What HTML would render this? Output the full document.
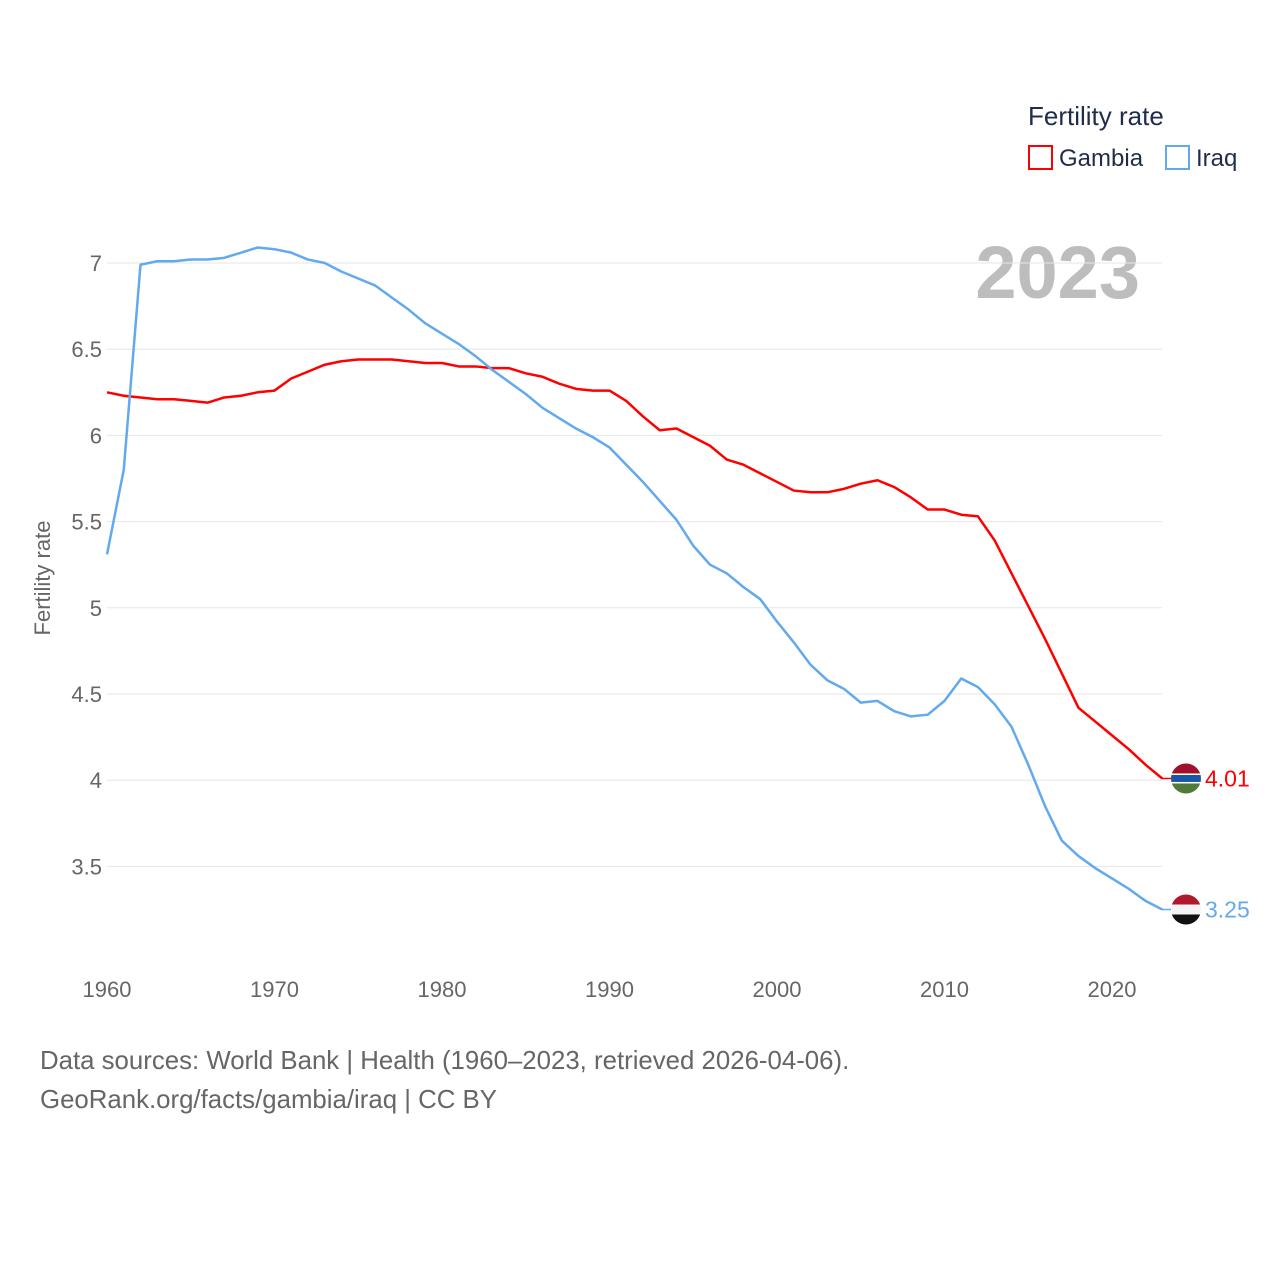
<!DOCTYPE html>
<html><head><meta charset="utf-8"><style>
body{margin:0;background:#fff;width:1280px;height:1280px;overflow:hidden;font-family:"Liberation Sans",sans-serif}
svg text{font-family:"Liberation Sans",sans-serif}
</style></head><body>
<svg id="chart" width="1280" height="1280" xmlns="http://www.w3.org/2000/svg">
<text x="1028" y="125" font-size="26" fill="#1f2d4a">Fertility rate</text>
<rect x="1029" y="146" width="23" height="23" fill="none" stroke="#ff0000" stroke-width="2"/>
<text x="1059" y="166" font-size="24" fill="#1f2d4a">Gambia</text>
<rect x="1166" y="146" width="23" height="23" fill="none" stroke="#63a9ed" stroke-width="2"/>
<text x="1196" y="166" font-size="24" fill="#1f2d4a">Iraq</text>
<text x="1140" y="298" font-size="74" font-weight="bold" fill="#bdbdbd" text-anchor="end">2023</text>
<text transform="translate(50,578) rotate(-90)" font-size="22" fill="#666" text-anchor="middle">Fertility rate</text>
<g id="grid"></g><g id="lines"></g>
<text x="40" y="1069" font-size="25.8" fill="#666">Data sources: World Bank | Health (1960–2023, retrieved 2026-04-06).</text>
<text x="40" y="1108" font-size="25.8" fill="#666">GeoRank.org/facts/gambia/iraq | CC BY</text>
</svg>
<script>
const years=[];for(let y=1960;y<=2023;y++)years.push(y);
const yTicks=[3.5,4,4.5,5,5.5,6,6.5,7];
const xTicks=[1960,1970,1980,1990,2000,2010,2020];
const gambia=[6.25,6.23,6.22,6.21,6.21,6.20,6.19,6.22,6.23,6.25,6.26,6.33,6.37,6.41,6.43,6.44,6.44,6.44,6.43,6.42,6.42,6.40,6.40,6.39,6.39,6.36,6.34,6.30,6.27,6.26,6.26,6.20,6.11,6.03,6.04,5.99,5.94,5.86,5.83,5.78,5.73,5.68,5.67,5.67,5.69,5.72,5.74,5.70,5.64,5.57,5.57,5.54,5.53,5.39,5.20,5.01,4.82,4.62,4.42,4.34,4.26,4.18,4.09,4.01];
const iraq=[5.31,5.80,6.99,7.01,7.01,7.02,7.02,7.03,7.06,7.09,7.08,7.06,7.02,7.00,6.95,6.91,6.87,6.80,6.73,6.65,6.59,6.53,6.46,6.38,6.31,6.24,6.16,6.10,6.04,5.99,5.93,5.83,5.73,5.62,5.51,5.36,5.25,5.20,5.12,5.05,4.92,4.80,4.67,4.58,4.53,4.45,4.46,4.40,4.37,4.38,4.46,4.59,4.54,4.44,4.31,4.09,3.85,3.65,3.56,3.49,3.43,3.37,3.30,3.25];
const X=y=>107+(y-1960)*16.75;
const Y=v=>263+(7-v)*172.4;
const NS="http://www.w3.org/2000/svg";
const grid=document.getElementById('grid'),lines=document.getElementById('lines');
function mk(tag,attrs,parent){const e=document.createElementNS(NS,tag);for(const k in attrs)e.setAttribute(k,attrs[k]);parent.appendChild(e);return e;}
yTicks.forEach(t=>{
 const l=mk('line',{x1:107,x2:1162,y1:Y(t),y2:Y(t),stroke:'#e6e6e6','stroke-width':1},grid);
 
 
 const tx=mk('text',{x:102,y:Y(t)+8,'font-size':22,fill:'#666','text-anchor':'end'},grid);
 tx.textContent=t;
 
 
});
xTicks.forEach(t=>{
 const tx=mk('text',{x:X(t),y:997,'font-size':22,fill:'#666','text-anchor':'middle'},grid);
 tx.textContent=t;
 
 
});
function series(vals,color,name){
 const p=mk('polyline',{points:vals.map((v,i)=>X(years[i])+','+Y(v)).join(' '),fill:'none',stroke:color,'stroke-width':2.5,'stroke-linejoin':'round'},lines);
 
 
 const last=vals[vals.length-1];
 const ly=Y(last);
 mk('line',{x1:1162,x2:1172,y1:ly,y2:ly,stroke:color,'stroke-width':1.5},lines);
 const t=mk('text',{x:1205,y:ly+8,'font-size':23,fill:color},lines);
 t.textContent=last.toFixed(2);
 
 
 return ly;
}
const gy=series(gambia,'#ff0000','gambia');
const iy=series(iraq,'#63a9ed','iraq');
function flag(cy,stripes,name){
 const g=mk('g',{},lines);
 
 
 const id='c'+name;
 const cp=mk('clipPath',{id:id},g);mk('circle',{cx:1186,cy:cy,r:15},cp);
 let y0=cy-15;
 stripes.forEach(s=>{mk('rect',{x:1171,y:y0,width:30,height:s[1],fill:s[0],'clip-path':'url(#'+id+')'},g);y0+=s[1];});
}
flag(gy,[['#a0102b',10],['#fff',1.5],['#1757a8',7],['#fff',1.5],['#4f7a3a',10]],'gambia');
flag(iy,[['#b0182d',10],['#f4f4f4',10],['#111',10]],'iraq');
</script>
</body></html>
